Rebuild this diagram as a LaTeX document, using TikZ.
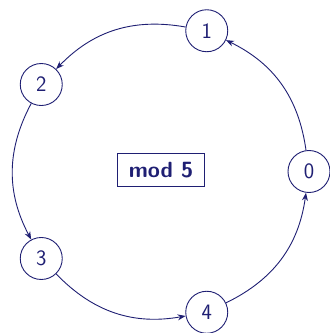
\documentclass[tikz,border=0pt]{standalone}
\usetikzlibrary{arrows.meta,calc}
\definecolor{navy}{rgb}{0.12,0.12,0.45}
\begin{document}
\begin{tikzpicture}[x=1pt,y=1pt,
  residue/.style={circle,draw=navy,line width=0.9pt,minimum size=42pt,inner sep=0pt,
    text=navy,font=\sffamily\fontsize{22}{26}\selectfont},
  modbox/.style={rectangle,draw=navy,line width=0.9pt,minimum width=87pt,minimum height=33pt,
    inner sep=0pt,text=navy,font=\sffamily\bfseries\fontsize{22}{26}\selectfont},
  succ/.style={draw=navy,line width=0.9pt,-{Stealth[length=8pt,width=6pt]},bend right=28}]
  \useasboundingbox (0,0) rectangle (330,333);
  \coordinate (c) at (161,161.5);
  \foreach \k in {0,...,4}{
    \node[residue] (n\k) at ($(c)+(72*\k:148)$) {\k};
  }
  \node[modbox] (m) at (161,163) {mod 5};
  \draw[succ] (n0) to (n1);
  \draw[succ] (n1) to (n2);
  \draw[succ] (n2) to (n3);
  \draw[succ] (n3) to (n4);
  \draw[succ] (n4) to (n0);
\end{tikzpicture}
\end{document}
